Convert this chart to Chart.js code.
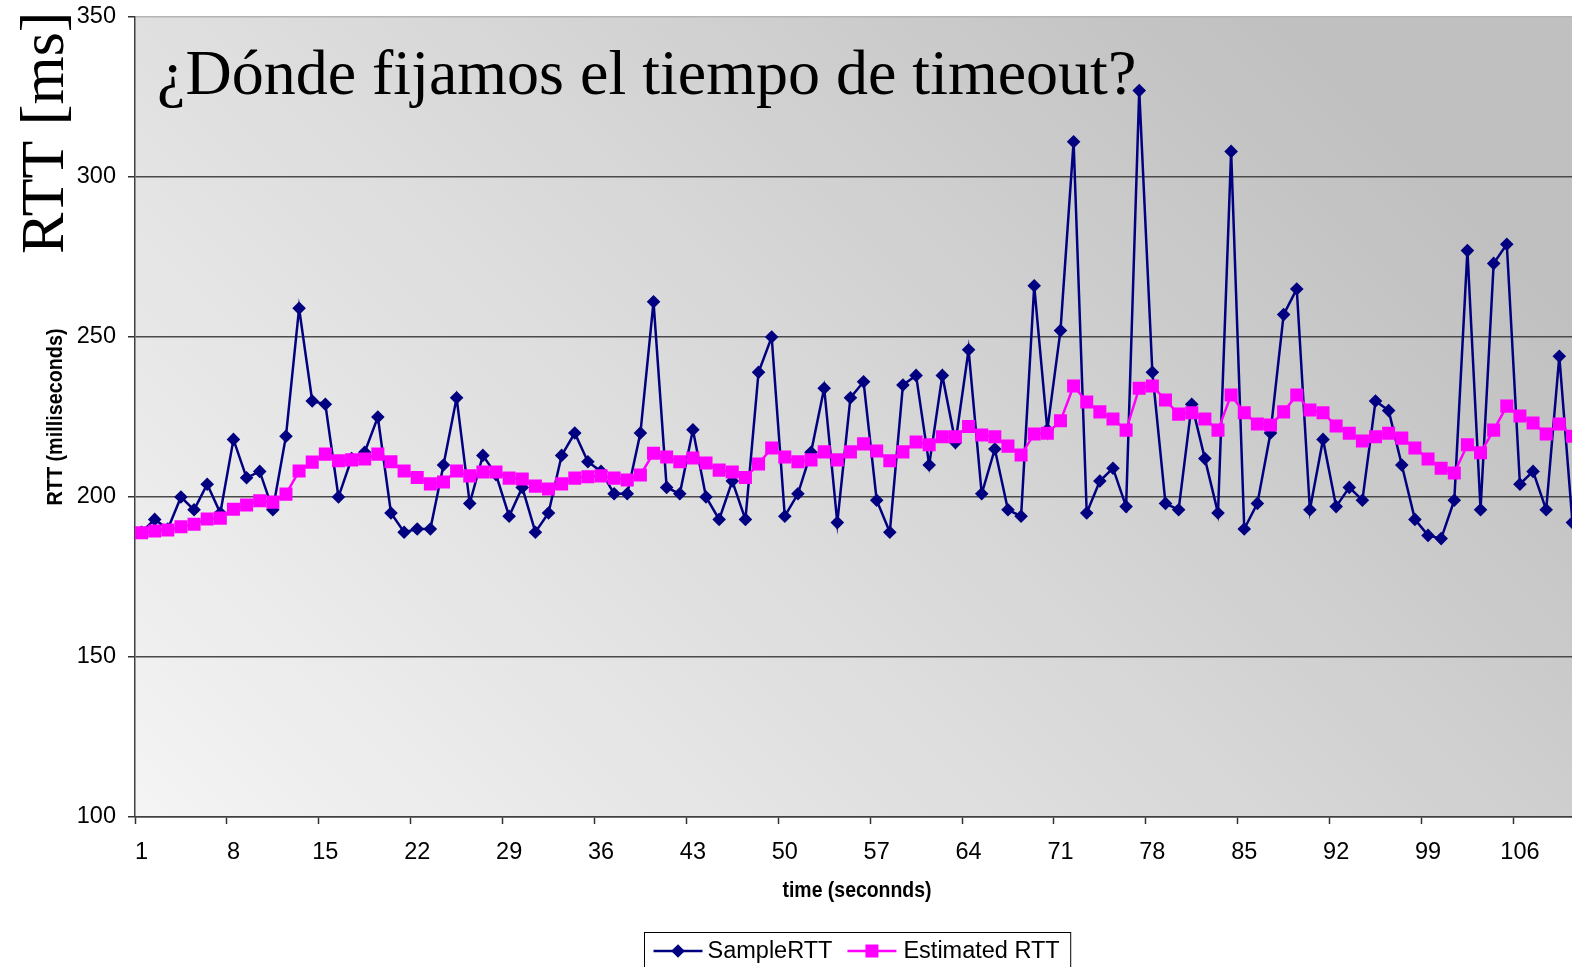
<!DOCTYPE html>
<html>
<head>
<meta charset="utf-8">
<script src="https://cdn.jsdelivr.net/npm/chart.js@4.4.0/dist/chart.umd.min.js"></script>
<style>
html,body{margin:0;padding:0;overflow:hidden;background:#ffffff}
#wrap{width:1572px;height:967px;overflow:hidden;position:relative}
canvas{display:block}
</style>
</head>
<body>
<div id="wrap"><canvas id="c" width="1599" height="967"></canvas></div>
<script>
const categories = [1,2,3,4,5,6,7,8,9,10,11,12,13,14,15,16,17,18,19,20,21,22,23,24,25,26,27,28,29,30,31,32,33,34,35,36,37,38,39,40,41,42,43,44,45,46,47,48,49,50,51,52,53,54,55,56,57,58,59,60,61,62,63,64,65,66,67,68,69,70,71,72,73,74,75,76,77,78,79,80,81,82,83,84,85,86,87,88,89,90,91,92,93,94,95,96,97,98,99,100,101,102,103,104,105,106,107,108,109,110];

const sampleRTT = [189,193,190,200,196,204,195,218,206,208,196,219,259,230,229,200,212,214,225,195,189,190,190,210,231,198,213,207,194,203,189,195,213,220,211,208,201,201,220,261,203,201,221,200,193,205,193,239,250,194,201,214,234,192,231,236,199,189,235,238,210,238,217,246,201,215,196,194,266,221,252,311,195,205,209,197,327,239,198,196,229,212,195,308,190,198,220,257,265,196,218,197,203,199,230,227,210,193,188,187,199,277,196,273,279,204,208,196,244,192];

const estimatedRTT = [188.8,189.4,189.7,190.7,191.5,193.1,193.4,196.2,197.5,198.8,198.4,200.9,208.1,210.9,213.4,211.3,211.6,211.9,213.4,211,208.1,206.1,204.1,204.7,208.1,206.6,207.8,207.8,205.9,205.6,203.4,202.5,204.1,205.9,206.3,206.6,205.9,205.3,206.9,213.7,212.5,211,212.2,210.6,208.4,207.8,206.1,210.3,215.3,212.5,211,211.6,214.1,211.6,214.1,216.6,214.4,211.3,214.1,217.2,216.3,218.8,218.8,222,219.4,218.8,215.9,213.1,219.7,219.9,223.8,234.7,229.7,226.6,224.4,220.9,234,234.7,230.3,225.9,226.3,224.4,220.9,231.9,226.3,222.8,222.5,226.6,231.9,227.2,226.3,222.2,219.9,217.5,218.8,219.9,218.4,215.3,211.9,209,207.5,216.3,213.8,220.9,228.4,225.3,223.1,219.7,222.8,219];

const xTickLabels = [1,8,15,22,29,36,43,50,57,64,71,78,85,92,99,106];
const yTickValues = [100,150,200,250,300,350];

const chartTitle = '¿Dónde fijamos el tiempo de timeout?';
const sideTitle = 'RTT [ms]';
const xTitle = 'time (seconnds)';
const yTitle = 'RTT (milliseconds)';

const bgPlugin = {
  id: 'bg',
  beforeDraw(chart) {
    const {ctx, chartArea: a} = chart;
    const g = ctx.createLinearGradient(a.left, a.bottom, a.left + 967, a.bottom - 967);
    g.addColorStop(0, '#f4f4f4');
    g.addColorStop(0.55, '#d9d9d9');
    g.addColorStop(1, '#c0c0c0');
    ctx.save();
    ctx.fillStyle = '#ffffff';
    ctx.fillRect(0, 0, chart.width, chart.height);
    ctx.fillStyle = g;
    ctx.fillRect(a.left, a.top, a.right - a.left, a.bottom - a.top);
    ctx.restore();
  }
};

function drawCondensed(ctx, text, font, targetWidth) {
  ctx.font = font;
  const w = ctx.measureText(text).width;
  ctx.scale(targetWidth / w, 1);
  ctx.fillText(text, 0, 0);
}

const titlePlugin = {
  id: 'texts',
  beforeDatasetsDraw(chart) {
    const {ctx, chartArea: a} = chart;
    ctx.save();
    ctx.fillStyle = '#000000';
    ctx.font = "64px 'Liberation Serif', serif";
    ctx.textBaseline = 'alphabetic';
    ctx.textAlign = 'left';
    ctx.fillText(chartTitle, a.left + 22, 94);
    ctx.restore();
  },
  afterDraw(chart) {
    const {ctx, chartArea: a} = chart;
    ctx.save();
    ctx.fillStyle = '#000000';
    ctx.font = "62px 'Liberation Serif', serif";
    ctx.textBaseline = 'alphabetic';
    ctx.textAlign = 'left';
    ctx.translate(63, 254);
    ctx.rotate(-Math.PI / 2);
    ctx.fillText(sideTitle, 0, 0);
    ctx.restore();

    // x axis title
    ctx.save();
    ctx.fillStyle = '#000000';
    ctx.textAlign = 'center';
    ctx.textBaseline = 'middle';
    ctx.translate((a.left + a.right) / 2, 891);
    drawCondensed(ctx, xTitle, "bold 22px 'Liberation Sans', sans-serif", 149);
    ctx.restore();

    // y axis title
    ctx.save();
    ctx.fillStyle = '#000000';
    ctx.textAlign = 'center';
    ctx.textBaseline = 'middle';
    ctx.translate(56, (a.top + a.bottom) / 2);
    ctx.rotate(-Math.PI / 2);
    drawCondensed(ctx, yTitle, "bold 22.5px 'Liberation Sans', sans-serif", 177);
    ctx.restore();
  }
};

const legendPlugin = {
  id: 'boxLegend',
  afterDraw(chart) {
    const {ctx, chartArea: a} = chart;
    const ds = chart.data.datasets;
    ctx.save();
    ctx.font = "23.5px 'Liberation Sans', sans-serif";
    const lineW = 49, gaps = [5, 7], itemGap = 15, padL = 9, padR = 11;
    const widths = ds.map(d => ctx.measureText(d.label).width);
    let total = padL + padR;
    widths.forEach((w, i) => { total += lineW + gaps[i] + w + (i < ds.length - 1 ? itemGap : 0); });
    const cx = (a.left + a.right) / 2;
    const left = Math.round(cx - total / 2) + 0.5;
    const top = 932.5;
    const y = 951;
    ctx.fillStyle = '#ffffff';
    ctx.fillRect(left, top, total, 45);
    ctx.strokeStyle = '#000000';
    ctx.lineWidth = 1;
    ctx.strokeRect(left, top, total, 45);
    let x = left + padL;
    ds.forEach((d, i) => {
      ctx.strokeStyle = d.borderColor;
      ctx.lineWidth = d.borderWidth;
      ctx.beginPath();
      ctx.moveTo(x, y);
      ctx.lineTo(x + lineW, y);
      ctx.stroke();
      ctx.fillStyle = d.backgroundColor;
      Chart.helpers.drawPoint(ctx, {pointStyle: d.pointStyle, radius: d.pointRadius, borderWidth: 0, rotation: 0}, x + lineW / 2, y);
      ctx.fillStyle = '#000000';
      ctx.textBaseline = 'middle';
      ctx.textAlign = 'left';
      ctx.fillText(d.label, x + lineW + gaps[i], y + 1);
      x += lineW + gaps[i] + widths[i] + itemGap;
    });
    ctx.restore();
  }
};

const isShownX = (idx) => xTickLabels.includes(categories[idx]);

new Chart(document.getElementById('c'), {
  type: 'line',
  data: {
    labels: categories,
    datasets: [
      {
        label: 'SampleRTT',
        data: sampleRTT,
        borderColor: '#000080',
        backgroundColor: '#000080',
        borderWidth: 2.5,
        pointStyle: 'rectRot',
        pointRadius: 6.8,
        pointBorderWidth: 0,
        pointBackgroundColor: '#000080',
        tension: 0,
        order: 1
      },
      {
        label: 'Estimated RTT',
        data: estimatedRTT,
        borderColor: '#ff00ff',
        backgroundColor: '#ff00ff',
        borderWidth: 2.5,
        pointStyle: 'rect',
        pointRadius: 9.2,
        pointBorderWidth: 0,
        pointBackgroundColor: '#ff00ff',
        tension: 0,
        order: 0
      }
    ]
  },
  options: {
    responsive: false,
    animation: false,
    devicePixelRatio: 1,
    layout: {padding: {top: 17, bottom: 50, left: 0, right: 20}},
    plugins: {legend: {display: false}, tooltip: {enabled: false}, title: {display: false}},
    scales: {
      x: {
        type: 'category',
        offset: true,
        grid: {
          offset: true,
          drawOnChartArea: false,
          drawTicks: true,
          tickLength: 7,
          tickWidth: 1.5,
          tickColor: (c) => (c.index !== undefined && isShownX(c.index)) ? '#303030' : 'rgba(0,0,0,0)'
        },
        border: {display: true, color: '#404040', width: 1.5},
        ticks: {
          autoSkip: false,
          maxRotation: 0,
          minRotation: 0,
          padding: 14,
          color: '#000000',
          font: {family: "'Liberation Sans', sans-serif", size: 23.5},
          callback: function(v, i) { return isShownX(i) ? String(categories[i]) : ''; }
        },
        title: {display: false},
        afterFit(s) { s.height = 100; s.paddingLeft = 0; s.paddingRight = 0; }
      },
      y: {
        min: 100,
        max: 350,
        afterBuildTicks(s) { s.ticks = yTickValues.map(v => ({value: v})); },
        grid: {
          color: (c) => (c.tick && c.tick.value === 350) ? '#b4b4b4' : '#4a4a4a',
          lineWidth: 1.5,
          drawTicks: true,
          tickLength: 7,
          tickColor: '#303030'
        },
        border: {display: true, color: '#404040', width: 1.5},
        ticks: {
          padding: 12,
          color: '#000000',
          font: {family: "'Liberation Sans', sans-serif", size: 23.5}
        },
        title: {display: false},
        afterFit(s) { s.width = 135; s.paddingTop = 0; s.paddingBottom = 0; }
      }
    }
  },
  plugins: [bgPlugin, titlePlugin, legendPlugin]
});
</script>
</body>
</html>
